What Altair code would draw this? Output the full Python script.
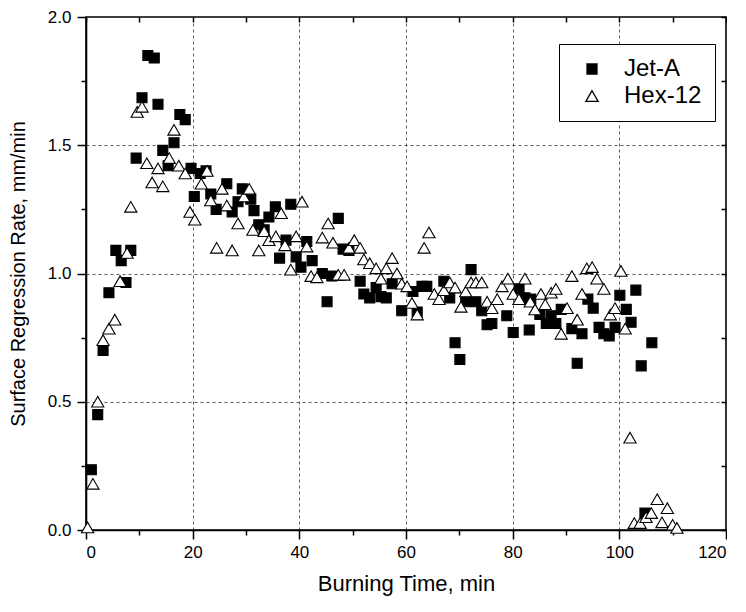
import altair as alt
import pandas as pd

jet_t = [1.0, 2.2, 3.2, 4.3, 5.6, 6.6, 7.5, 8.4, 9.4, 10.5, 11.6, 12.8, 13.5, 14.4, 15.4, 16.5,
         17.6, 18.6, 19.7, 20.3, 21.4, 22.5, 23.4, 24.4, 26.4, 27.4, 28.5, 29.3, 30.9, 31.5,
         32.4, 33.4, 34.3, 35.5, 36.3, 37.5, 38.4, 39.4, 40.3, 41.4, 42.4, 44.3, 45.2, 46.1,
         47.3, 48.2, 49.3, 51.4, 52.1, 53.2, 54.4, 55.3, 56.3, 57.4, 59.2, 61.3, 62.1, 63.0,
         63.9, 67.1, 68.2, 69.2, 70.1, 71.2, 72.2, 73.1, 74.2, 75.2, 76.1, 78.9, 80.1, 81.2,
         82.3, 83.4, 83.1, 85.1, 86.3, 87.2, 88.1, 89.1, 91.1, 92.1, 93.0, 94.1, 95.1, 96.2,
         97.1, 98.1, 99.2, 100.1, 101.3, 102.2, 103.1, 104.1, 104.8, 106.1]
jet_v = [0.235, 0.45, 0.70, 0.925, 1.09, 1.05, 0.965, 1.09, 1.45, 1.685, 1.85, 1.84, 1.66, 1.48,
         1.42, 1.51, 1.62, 1.60, 1.41, 1.30, 1.39, 1.40, 1.31, 1.25, 1.35, 1.24, 1.28, 1.33,
         1.29, 1.245, 1.19, 1.17, 1.22, 1.26, 1.06, 1.13, 1.27, 1.065, 1.025, 1.125, 1.05, 1.00,
         0.89, 0.99, 1.215, 1.095, 1.09, 0.97, 0.92, 0.905, 0.945, 0.91, 0.905, 0.96, 0.855,
         0.93, 0.85, 0.95, 0.95, 0.97, 0.905, 0.73, 0.665, 0.89, 1.015, 0.89, 0.855, 0.80,
         0.805, 0.835, 0.77, 0.94, 0.905, 0.90, 0.78, 0.84, 0.805, 0.835, 0.805, 0.86, 0.785,
         0.65, 0.765, 0.90, 0.865, 0.79, 0.765, 0.757, 0.79, 0.915, 0.86, 0.81, 0.935, 0.64,
         0.066, 0.73]

hex_t = [0.3, 1.3, 2.2, 3.2, 4.3, 5.4, 6.4, 7.7, 8.4, 9.6, 10.5, 11.4, 12.4, 13.5, 14.4, 15.6,
         16.5, 17.4, 18.6, 19.5, 20.4, 21.6, 22.7, 23.4, 24.5, 25.5, 26.4, 27.4, 28.5, 29.6,
         30.6, 31.3, 32.4, 33.4, 34.3, 35.6, 36.6, 37.3, 38.4, 39.4, 40.5, 41.4, 42.2, 43.3,
         44.3, 45.4, 46.3, 47.3, 48.4, 49.3, 50.3, 51.4, 52.1, 53.2, 54.4, 55.3, 56.3, 57.4,
         58.3, 59.2, 60.2, 61.1, 62.1, 63.4, 64.3, 65.3, 66.2, 67.1, 68.2, 69.2, 70.3, 71.2,
         72.2, 73.1, 74.2, 75.2, 76.1, 77.1, 78.0, 79.1, 80.1, 81.2, 82.3, 83.3, 84.2, 85.3,
         86.1, 87.2, 88.1, 89.1, 90.2, 91.1, 92.1, 93.0, 93.9, 94.9, 95.8, 97.1, 98.3, 99.2,
         100.3, 101.1, 102.0, 102.8, 103.9, 105.0, 106.0, 107.1, 108.0, 109.0, 110.0, 110.8]
hex_v = [0.01, 0.18, 0.50, 0.74, 0.785, 0.82, 0.97, 1.08, 1.26, 1.63, 1.65, 1.43, 1.355, 1.41,
         1.34, 1.45, 1.56, 1.42, 1.39, 1.24, 1.21, 1.35, 1.40, 1.285, 1.10, 1.33, 1.265, 1.09,
         1.195, 1.30, 1.33, 1.17, 1.09, 1.165, 1.13, 1.145, 1.235, 1.11, 1.015, 1.145, 1.28,
         1.105, 0.99, 0.985, 1.14, 1.195, 1.12, 0.995, 0.995, 1.10, 1.13, 1.10, 1.055, 1.04,
         1.02, 0.98, 1.02, 1.06, 1.00, 0.96, 0.95, 0.885, 0.84, 1.10, 1.16, 0.92, 0.90, 0.935,
         0.965, 0.945, 0.87, 0.93, 0.965, 0.965, 0.965, 0.89, 0.865, 0.90, 0.95, 0.98, 0.92,
         0.90, 0.98, 0.89, 0.86, 0.92, 0.88, 0.925, 0.94, 0.765, 0.865, 0.99, 0.82, 0.92, 1.02,
         1.025, 0.98, 0.94, 0.84, 0.865, 1.01, 0.785, 0.36, 0.027, 0.027, 0.05, 0.066, 0.12,
         0.03, 0.085, 0.02, 0.008]

series = ["Jet-A", "Hex-12"]
x_ticks = [0, 10, 20, 30, 40, 50, 60, 70, 80, 90, 100, 110, 120]
y_ticks = [0.0, 0.25, 0.5, 0.75, 1.0, 1.25, 1.5, 1.75, 2.0]

df = pd.concat([
    pd.DataFrame({"t": jet_t, "v": jet_v, "fuel": series[0]}),
    pd.DataFrame({"t": hex_t, "v": hex_v, "fuel": series[1]}),
], ignore_index=True)

FONT = "Liberation Sans"
W, H = 640, 513

x_minor = "datum.value % 20 != 0"
y_minor = "round(datum.value * 4) % 2 == 1"
x_edge = "datum.value == 0 || datum.value == 120"
y_edge = "datum.value == 0 || datum.value == 2"

xscale = alt.Scale(domain=[0, 120], nice=False)
yscale = alt.Scale(domain=[0, 2], nice=False)

legend = alt.Legend(
    title=None, orient="none", legendX=473, legendY=27,
    strokeColor="black", fillColor="white", padding=13,
    labelFont=FONT, labelFontSize=24, labelColor="black",
    symbolStrokeWidth=1.3, symbolStrokeColor="black",
    rowPadding=3, labelOffset=20, symbolOffset=8, labelLimit=300,
)

points = alt.Chart(df).mark_point(strokeWidth=1.1, opacity=1).encode(
    x=alt.X("t:Q", scale=xscale,
            axis=alt.Axis(values=x_ticks, title="Burning Time, min", format="d", orient="bottom",
                          labelExpr=f"{x_minor} ? '' : datum.label",
                          labelFontSize=17, titleFontSize=22, titlePadding=13,
                          labelPadding=5,
                          tickSize={"condition": {"test": x_minor, "value": 5}, "value": 9},
                          gridOpacity={"condition": {"test": f"{x_minor} || {x_edge}", "value": 0},
                                       "value": 1})),
    y=alt.Y("v:Q", scale=yscale,
            axis=alt.Axis(values=y_ticks, title="Surface Regression Rate, mm/min", format=".1f",
                          orient="left",
                          labelExpr=f"{y_minor} ? '' : datum.label",
                          labelFontSize=17, titleFontSize=20, titlePadding=19,
                          labelPadding=6,
                          tickSize={"condition": {"test": y_minor, "value": 5}, "value": 9},
                          gridOpacity={"condition": {"test": f"{y_minor} || {y_edge}", "value": 0},
                                       "value": 1})),
    shape=alt.Shape("fuel:N", scale=alt.Scale(domain=series, range=["square", "triangle-up"]),
                    legend=legend),
    fill=alt.Fill("fuel:N", scale=alt.Scale(domain=series, range=["black", "white"]),
                  legend=legend),
    stroke=alt.Stroke("fuel:N", scale=alt.Scale(domain=series, range=["black", "black"]),
                      legend=legend),
    size=alt.Size("fuel:N", scale=alt.Scale(domain=series, range=[100, 150]),
                  legend=legend),
)

mirror = alt.Chart(df).mark_point(opacity=0).encode(
    x=alt.X("t:Q", scale=xscale,
            axis=alt.Axis(values=x_ticks, orient="bottom", offset=-H, title=None, labels=False,
                          grid=False, domain=False, tickSize=5)),
    y=alt.Y("v:Q", scale=yscale,
            axis=alt.Axis(values=y_ticks, orient="left", offset=-W, title=None, labels=False,
                          grid=False, domain=False, tickSize=5)),
)

chart = alt.layer(points, mirror).resolve_axis(
    x="independent", y="independent"
).properties(
    width=W, height=H,
    padding={"left": 0, "top": 0, "right": 0, "bottom": 12},
).configure_view(
    stroke="black", strokeWidth=1.6
).configure_axis(
    labelFont=FONT, titleFont=FONT, labelColor="black", titleColor="black",
    titleFontWeight="normal", domainColor="black", domainWidth=1.6,
    tickColor="black", tickWidth=1.5,
    grid=True, gridColor="#333333", gridDash=[3, 3], gridWidth=0.8,
)

chart.save("out.html", embed_options={"renderer": "svg", "actions": False})
